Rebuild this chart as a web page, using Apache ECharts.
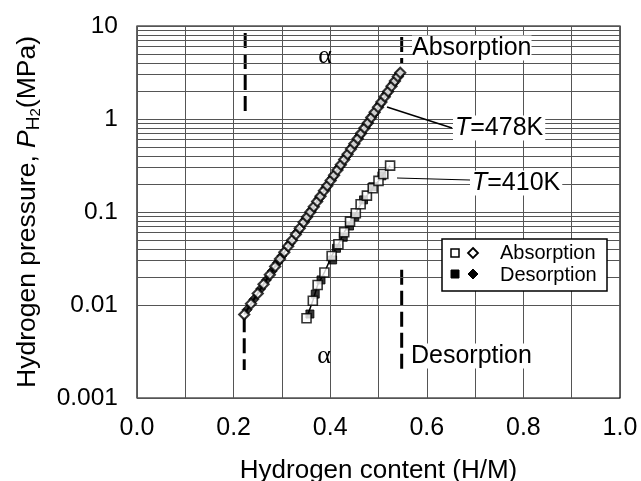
<!DOCTYPE html>
<html>
<head>
<meta charset="utf-8">
<script src="https://cdn.jsdelivr.net/npm/echarts@6/dist/echarts.min.js"></script>
<style>
html, body { margin: 0; padding: 0; background: #fff; }
#main { width: 641px; height: 481px; }
</style>
</head>
<body>
<div id="main"></div>
<script>
// T=478K, absorption (open diamonds)
const absX478 = [0.222, 0.236, 0.250, 0.262, 0.275, 0.286, 0.296, 0.305, 0.313, 0.321, 0.329, 0.337, 0.345, 0.352,
    0.359, 0.366, 0.373, 0.380, 0.387, 0.394, 0.401, 0.408, 0.415, 0.422, 0.429, 0.436, 0.443, 0.450, 0.457,
    0.464, 0.471, 0.478, 0.485, 0.492, 0.499, 0.506, 0.513, 0.520, 0.527, 0.534, 0.540, 0.545];
const absP478 = [0.0079, 0.0103, 0.0133, 0.0167, 0.0212, 0.0260, 0.0313, 0.0369, 0.0429, 0.0497, 0.0575, 0.0668, 0.0774, 0.0881,
    0.100, 0.114, 0.130, 0.148, 0.169, 0.192, 0.218, 0.248, 0.283, 0.322, 0.366, 0.418, 0.475, 0.541, 0.615,
    0.701, 0.798, 0.908, 1.035, 1.18, 1.34, 1.52, 1.74, 1.98, 2.25, 2.56, 2.86, 3.14];
// T=478K, desorption (filled diamonds)
const desX478 = [0.228, 0.242, 0.256, 0.268, 0.280, 0.291, 0.300, 0.317, 0.333, 0.349, 0.362, 0.377, 0.391, 0.405,
    0.419, 0.433, 0.447, 0.461, 0.475, 0.489, 0.503, 0.517, 0.531, 0.543];
const desP478 = [0.0089, 0.0115, 0.0149, 0.0186, 0.0232, 0.0285, 0.0337, 0.0461, 0.0619, 0.0834, 0.106, 0.140, 0.182, 0.235,
    0.305, 0.394, 0.512, 0.664, 0.859, 1.11, 1.44, 1.87, 2.42, 3.03];
// T=410K, absorption (open squares)
const absX410 = [0.351, 0.364, 0.374, 0.388, 0.403, 0.417, 0.429, 0.441, 0.453, 0.463, 0.476, 0.488, 0.500, 0.510, 0.524];
const absP410 = [0.0072, 0.0111, 0.0164, 0.0224, 0.0337, 0.045, 0.0605, 0.0787, 0.0968, 0.121, 0.150, 0.180, 0.216, 0.256, 0.315];
// T=410K, desorption (filled squares)
const desX410 = [0.358, 0.369, 0.381, 0.405, 0.413, 0.427, 0.440, 0.451, 0.469, 0.488, 0.507];
const desP410 = [0.0080, 0.0131, 0.0186, 0.0305, 0.0407, 0.0535, 0.0707, 0.0891, 0.135, 0.187, 0.245];

const xTicks = ['0.0', '0.2', '0.4', '0.6', '0.8', '1.0'];
const yTicks = ['0.001', '0.01', '0.1', '1', '10'];
const yMinor = [0.002, 0.003, 0.004, 0.005, 0.006, 0.007, 0.008, 0.009,
    0.02, 0.03, 0.04, 0.05, 0.06, 0.07, 0.08, 0.09,
    0.2, 0.3, 0.4, 0.5, 0.6, 0.7, 0.8, 0.9,
    2, 3, 4, 5, 6, 7, 8, 9];

// alpha phase boundaries (dashed)
const bounds = [
    [[0.224, 8.4], [0.224, 1.2]],
    [[0.222, 0.0074], [0.222, 0.002]],
    [[0.548, 7.6], [0.548, 4.0]],
    [[0.548, 0.024], [0.548, 0.002]]
];

const zip = (xs, ys) => xs.map((x, i) => [x, ys[i]]);
const font = 'Liberation Sans, Arial, sans-serif';

const chart = echarts.init(document.getElementById('main'));

const series = [{
    type: 'line',
    z: 1,
    data: [],
    silent: true,
    markLine: {
        silent: true,
        symbol: 'none',
        label: { show: false },
        lineStyle: { color: '#555', width: 1, type: 'solid' },
        data: yMinor.map(v => ({ yAxis: v }))
    }
}];
bounds.forEach(b => series.push({
    type: 'line', data: b, showSymbol: false, silent: true, z: 3,
    lineStyle: { color: '#000', width: 3, type: [15, 6] }
}));
series.push(
    { type: 'line', data: zip(absX478, absP478), showSymbol: false, lineStyle: { color: '#000', width: 2 }, z: 4 },
    { type: 'line', data: zip(absX410, absP410), showSymbol: false, lineStyle: { color: '#000', width: 1.5 }, z: 4 },
    { type: 'scatter', data: zip(desX478, desP478), symbol: 'diamond', symbolSize: 10,
      itemStyle: { color: '#000', borderColor: '#000', borderWidth: 1 }, z: 5 },
    { type: 'scatter', data: zip(desX410, desP410), symbol: 'rect', symbolSize: 8,
      itemStyle: { color: '#000', borderColor: '#000', borderWidth: 1 }, z: 5 },
    { type: 'scatter', data: zip(absX478, absP478), symbol: 'diamond', symbolSize: 10,
      itemStyle: { color: '#fff', borderColor: '#000', borderWidth: 2.2 }, z: 6 },
    { type: 'scatter', data: zip(absX410, absP410), symbol: 'rect', symbolSize: 9,
      itemStyle: { color: '#fff', borderColor: '#000', borderWidth: 1.6 }, z: 6 }
);

const txt = (x, y, text, size, extra) => Object.assign({
    type: 'text', z: 100, x: x, y: y,
    style: Object.assign({ text: text, font: size + 'px ' + font, fill: '#000',
        textVerticalAlign: 'middle', verticalAlign: 'middle' }, extra || {})
});

const option = {
    animation: false,
    backgroundColor: '#fff',
    grid: { left: 137, top: 26, width: 483, height: 372, outerBoundsMode: 'none',
        show: true, borderColor: '#000', borderWidth: 1.2 },
    xAxis: {
        type: 'value', min: 0, max: 1, interval: 0.2,
        name: 'Hydrogen content (H/M)', nameLocation: 'middle', nameGap: 60,
        nameTextStyle: { fontFamily: font, fontSize: 26, color: '#000' },
        axisLine: { show: false }, axisTick: { show: false },
        axisLabel: { fontFamily: font, fontSize: 25, color: '#000', margin: 18,
            formatter: v => xTicks[Math.round(v / 0.2)] },
        splitLine: { show: true, lineStyle: { color: '#555', width: 1 } },
        minorTick: { show: false, splitNumber: 2 },
        minorSplitLine: { show: true, lineStyle: { color: '#555', width: 1 } }
    },
    yAxis: {
        type: 'log', logBase: 10, min: 0.001, max: 10,
        name: '{n|Hydrogen pressure, }{i|P}{s|H}{t|2}{n|(MPa)}', nameLocation: 'middle', nameGap: 94,
        nameTextStyle: {
            color: '#000',
            rich: {
                n: { fontFamily: font, fontSize: 26.5, lineHeight: 30, verticalAlign: 'middle' },
                i: { fontFamily: font, fontSize: 26.5, fontStyle: 'italic', lineHeight: 30, verticalAlign: 'middle' },
                s: { fontFamily: font, fontSize: 19, lineHeight: 19, verticalAlign: 'bottom' },
                t: { fontFamily: font, fontSize: 15, lineHeight: 9, verticalAlign: 'bottom' }
            }
        },
        axisLine: { show: false }, axisTick: { show: false },
        axisLabel: { fontFamily: font, fontSize: 24.5, color: '#000', margin: 19,
            formatter: v => yTicks[Math.round(Math.log10(v)) + 3] },
        splitLine: { show: true, lineStyle: { color: '#555', width: 1 } }
    },
    series: series,
    graphic: [
        txt(325, 56, 'α', 26, { font: '26px Liberation Serif, Times New Roman, serif', align: 'center', textAlign: 'center' }),
        txt(324, 356, 'α', 26, { font: '26px Liberation Serif, Times New Roman, serif', align: 'center', textAlign: 'center' }),
        txt(412, 48, 'Absorption', 25, { backgroundColor: '#fff' }),
        txt(411, 356, 'Desorption', 25, { backgroundColor: '#fff' }),
        { type: 'line', z: 99, shape: { x1: 387, y1: 107, x2: 452, y2: 128 }, style: { stroke: '#000', lineWidth: 1.5 } },
        { type: 'line', z: 99, shape: { x1: 397, y1: 178, x2: 470, y2: 180 }, style: { stroke: '#000', lineWidth: 1.2 } },
        txt(453, 128, '{i|T}{n|=478K}', 25, { backgroundColor: '#fff', padding: [0, 2],
            rich: { i: { fontFamily: font, fontSize: 25, fontStyle: 'italic' }, n: { fontFamily: font, fontSize: 25 } } }),
        txt(470, 183, '{i|T}{n|=410K}', 25, { backgroundColor: '#fff', padding: [0, 2],
            rich: { i: { fontFamily: font, fontSize: 25, fontStyle: 'italic' }, n: { fontFamily: font, fontSize: 25 } } }),
        // legend box
        { type: 'rect', z: 99, shape: { x: 442, y: 239, width: 165, height: 52 }, style: { fill: '#fff', stroke: '#000', lineWidth: 1.5 } },
        { type: 'rect', z: 100, shape: { x: 451, y: 249, width: 8, height: 8 }, style: { fill: '#fff', stroke: '#000', lineWidth: 1.5 } },
        { type: 'polygon', z: 100, shape: { points: [[473, 248], [478, 253], [473, 258], [468, 253]] }, style: { fill: '#fff', stroke: '#000', lineWidth: 1.8 } },
        { type: 'rect', z: 100, shape: { x: 451, y: 270, width: 8, height: 8 }, style: { fill: '#000', stroke: '#000', lineWidth: 1 } },
        { type: 'polygon', z: 100, shape: { points: [[473, 269], [478, 274], [473, 279], [468, 274]] }, style: { fill: '#000', stroke: '#000', lineWidth: 1 } },
        txt(500, 253, 'Absorption', 20),
        txt(500, 275, 'Desorption', 20)
    ]
};
chart.setOption(option);
</script>
</body>
</html>
